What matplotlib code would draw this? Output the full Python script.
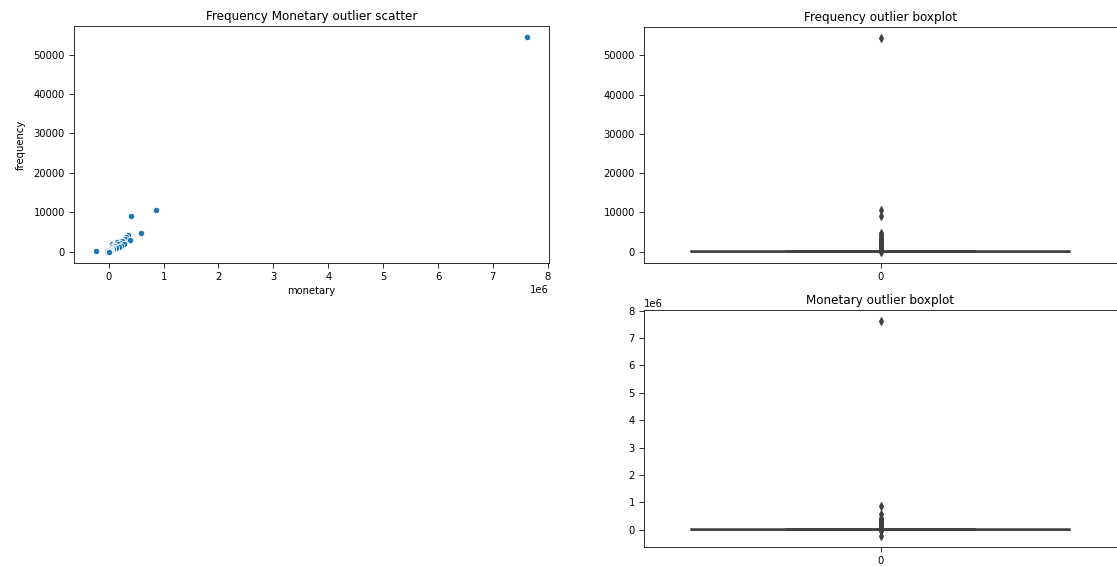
import matplotlib
matplotlib.use("Agg")
import matplotlib.pyplot as plt

# outlying customers (monetary, frequency)
monetary_out = [7630000, 870000, 410000, 580000, 350000, 320000, 300000, 390000,
                260000, 250000, 150000, 200000, 170000, 60000, 270000, 90000,
                120000, 230000, 100000, 50000, 190000, 140000, 80000, 70000,
                45000, 40000, 35000, 30000, 25000, 20000, -240000, 0,
                -40000, -25000, -15000, 18000, 16000, 14000]
frequency_out = [54500, 10600, 9000, 4800, 4200, 3600, 3300, 2900,
                 2700, 2600, 2300, 2100, 2000, 1900, 1900, 1700,
                 1500, 1400, 1300, 1100, 1100, 900, 800, 700,
                 600, 500, 400, 300, 250, 200, 170, -170,
                 15, 10, 8, 150, 130, 110]
# the bulk of ordinary customers
monetary_small = [150, 200, 250, 300, 350, 400, 450, 500, 550, 600,
                  650, 700, 750, 800, 850, 900, 950, 1000, 1100, 1200,
                  1300, 1400, 1500, 1600, 1700, 1800, 1900, 2000, 2100, 2200,
                  2300, 2400, 2500, 2600, 2700, 2800, 2900, 3000, 3200, 3400,
                  3600, 3800, 4000, 4200, 4400, 4600, 4800, 5000, 5300, 5600,
                  5900, 6200, 6500, 6800, 7100, 7500, 7900, 8300, 8700, 9200,
                  9700, 10200, 10800, 11400, 12000, 180, 220, 330, 480, 620,
                  760, 880, 1050, 1250, 1450, 1650, 1850, 2050, 2350, 2650,
                  2950, 3300, 3700, 4100, 4500, 270, 420, 580, 720, 960,
                  1150, 1350, 1550, 1750, 1950, 2250, 2550, 2850, 3100, 3500]
frequency_small = [1, 2, 2, 3, 3, 4, 4, 5, 5, 6,
                   6, 7, 7, 8, 8, 9, 9, 10, 10, 11,
                   11, 12, 12, 13, 13, 14, 15, 15, 16, 17,
                   18, 18, 19, 20, 21, 22, 23, 24, 25, 26,
                   27, 28, 29, 30, 31, 32, 33, 34, 35, 36,
                   38, 40, 42, 44, 46, 48, 50, 52, 55, 58,
                   60, 63, 66, 70, 74, 1, 1, 2, 3, 4,
                   5, 6, 7, 8, 9, 10, 12, 14, 16, 18,
                   20, 22, 25, 28, 31, 3, 5, 7, 9, 11,
                   34, 37, 40, 45, 50, 2, 4, 6, 8, 12]

monetary = monetary_out + monetary_small
frequency = frequency_out + frequency_small

W, H = 1117, 566
plt.rcParams['font.family'] = ['DejaVu Sans']
plt.rcParams['xtick.major.size'] = 5
plt.rcParams['ytick.major.size'] = 5
plt.rcParams['xtick.major.pad'] = 4
plt.rcParams['ytick.major.pad'] = 4
fig = plt.figure(figsize=(W / 72, H / 72), dpi=72)

def rect(l, t, r, b):
    return [l / W, (H - b) / H, (r - l) / W, (b - t) / H]

ax1 = fig.add_axes(rect(74, 26, 549, 263))
ax2 = fig.add_axes(rect(644, 27, 1117, 263))
ax3 = fig.add_axes(rect(644, 310, 1117, 547))

ax1.scatter(monetary, frequency, s=40, color='#1f77b4', edgecolor='white', linewidth=0.75)
ax1.set_xlabel('monetary')
ax1.set_ylabel('frequency', labelpad=8)
ax1.set_title('Frequency Monetary outlier scatter')

gray = '#3f3f3f'
def sbox(ax, data):
    ax.boxplot([data], positions=[0], widths=0.8, patch_artist=True,
               boxprops=dict(facecolor='#3274a1', edgecolor=gray, linewidth=1.5),
               medianprops=dict(color=gray, linewidth=1.5),
               whiskerprops=dict(color=gray, linewidth=1.5),
               capprops=dict(color=gray, linewidth=1.5),
               flierprops=dict(marker='d', markerfacecolor=gray, markeredgecolor=gray,
                               markersize=5))
    ax.set_xlim(-0.5, 0.5)
    ax.set_xticks([0])
    ax.set_xticklabels(['0'])

sbox(ax2, frequency)
ax2.set_title('Frequency outlier boxplot')
sbox(ax3, monetary)
ax3.set_title('Monetary outlier boxplot')

fig.savefig('out.png', dpi=72)
